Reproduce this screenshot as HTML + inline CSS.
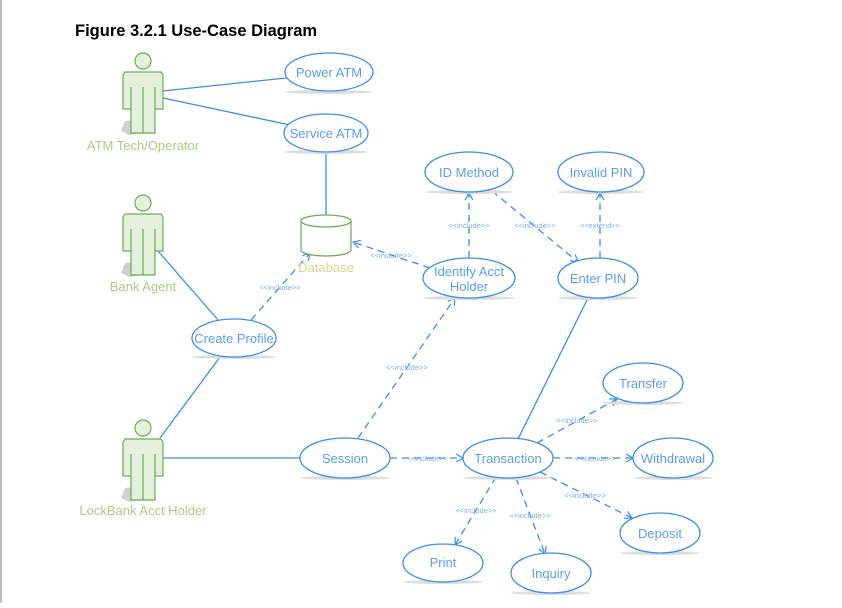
<!DOCTYPE html>
<html><head><meta charset="utf-8"><style>
body{margin:0;background:#fff;width:842px;height:603px;overflow:hidden;font-family:"Liberation Sans",sans-serif}
</style></head><body>
<svg width="842" height="603" viewBox="0 0 842 603" xmlns="http://www.w3.org/2000/svg">
<defs>
<marker id="a" markerWidth="10" markerHeight="10" refX="8" refY="5" orient="auto" markerUnits="userSpaceOnUse"><path d="M1,1 L8,5 L1,9" fill="none" stroke="#3b8ee6" stroke-width="1.2"/></marker>
<g id="actor">
<path d="M-18,60 L-2,58 L-2,72 L-14,74 L-22,70Z" fill="#d0d0d0"/>
<circle cx="0" cy="0" r="8" fill="#e4f0dc" stroke="#6aaa55" stroke-width="1.2"/>
<path d="M-18,11 L18,11 L20,14 L20,48 L12,48 L12,72 L-12,72 L-12,48 L-20,48 L-20,14Z" fill="#e4f0dc" stroke="#6aaa55" stroke-width="1.2"/>
<path d="M0,26 V72 M-12,26 V48 M12,26 V48" stroke="#6aaa55" stroke-width="1.2" fill="none"/>
</g>
</defs>
<line x1="1" y1="0" x2="1" y2="603" stroke="#bbb" stroke-width="2"/>
<text x="75" y="36" font-size="16.5" font-weight="bold" fill="#000">Figure 3.2.1 Use-Case Diagram</text>

<g fill="none" stroke="#3b8ee6" stroke-width="1.3">
<line x1="163" y1="91" x2="286" y2="78"/>
<line x1="163" y1="98" x2="290" y2="125"/>
<line x1="326" y1="152" x2="326" y2="215"/>
<line x1="158" y1="251" x2="218" y2="320"/>
<line x1="220" y1="357" x2="160" y2="438"/>
<line x1="163" y1="458" x2="300" y2="458"/>
<line x1="588" y1="298" x2="518" y2="439"/>
</g>
<g fill="none" stroke="#3b8ee6" stroke-width="1.3" stroke-dasharray="7,5">
<line x1="358" y1="438" x2="455" y2="298" marker-end="url(#a)"/>
<line x1="251" y1="320" x2="310" y2="253" marker-end="url(#a)"/>
<line x1="430" y1="268" x2="353" y2="242" marker-end="url(#a)"/>
<line x1="469" y1="258" x2="469" y2="193" marker-end="url(#a)"/>
<line x1="492" y1="191" x2="578" y2="262" marker-end="url(#a)"/>
<line x1="600" y1="258" x2="600" y2="193" marker-end="url(#a)"/>
<line x1="390" y1="458" x2="463" y2="458" marker-end="url(#a)"/>
<line x1="537" y1="443" x2="617" y2="399" marker-end="url(#a)"/>
<line x1="553" y1="458" x2="633" y2="458" marker-end="url(#a)"/>
<line x1="540" y1="472" x2="632" y2="518" marker-end="url(#a)"/>
<line x1="496" y1="477" x2="455" y2="545" marker-end="url(#a)"/>
<line x1="516" y1="478" x2="545" y2="554" marker-end="url(#a)"/>
</g>

<use href="#actor" x="143" y="61"/>
<use href="#actor" x="143" y="203"/>
<use href="#actor" x="143" y="428"/>
<g font-size="13" fill="#a9cc80" text-anchor="middle">
<text x="143" y="150">ATM Tech/Operator</text>
<text x="143" y="291">Bank Agent</text>
<text x="143" y="515">LockBank Acct Holder</text>
<text x="326" y="272" fill="#d4d88a">Database</text>
</g>

<g fill="#fff" stroke="#6aaa55" stroke-width="1.2">
<path d="M301,221 V250 A25,6 0 0 0 351,250 V221"/>
<ellipse cx="326" cy="221" rx="25" ry="6"/>
</g>

<g fill="#ddd">
<ellipse cx="329" cy="92" rx="44" ry="2"/><ellipse cx="326" cy="152" rx="42" ry="2"/>
<ellipse cx="469" cy="192" rx="44" ry="2"/><ellipse cx="601" cy="192" rx="43" ry="2"/>
<ellipse cx="469" cy="298" rx="46" ry="2"/><ellipse cx="598" cy="298" rx="40" ry="2"/>
<ellipse cx="234" cy="357" rx="42" ry="2"/><ellipse cx="345" cy="478" rx="45" ry="2"/>
<ellipse cx="508" cy="478" rx="45" ry="2"/><ellipse cx="643" cy="403" rx="40" ry="2"/>
<ellipse cx="673" cy="478" rx="40" ry="2"/><ellipse cx="660" cy="553" rx="40" ry="2"/>
<ellipse cx="443" cy="582" rx="40" ry="2"/><ellipse cx="551" cy="593" rx="40" ry="2"/>
</g>
<g fill="#fff" stroke="#3b8ee6" stroke-width="1.3">
<ellipse cx="329" cy="72" rx="44" ry="19"/>
<ellipse cx="326" cy="133" rx="42" ry="19"/>
<ellipse cx="469" cy="172" rx="44" ry="20"/>
<ellipse cx="601" cy="172" rx="43" ry="20"/>
<ellipse cx="469" cy="278" rx="46" ry="20"/>
<ellipse cx="598" cy="278" rx="40" ry="20"/>
<ellipse cx="234" cy="338" rx="42" ry="19"/>
<ellipse cx="345" cy="458" rx="45" ry="20"/>
<ellipse cx="508" cy="458" rx="45" ry="20"/>
<ellipse cx="643" cy="383" rx="40" ry="20"/>
<ellipse cx="673" cy="458" rx="40" ry="20"/>
<ellipse cx="660" cy="533" rx="40" ry="20"/>
<ellipse cx="443" cy="563" rx="40" ry="19"/>
<ellipse cx="551" cy="573" rx="40" ry="20"/>
</g>
<g font-size="13" fill="#5b9de8" text-anchor="middle">
<text x="329" y="77">Power ATM</text>
<text x="326" y="138">Service ATM</text>
<text x="469" y="177">ID Method</text>
<text x="601" y="177">Invalid PIN</text>
<text x="469" y="276">Identify Acct</text>
<text x="469" y="291">Holder</text>
<text x="598" y="283">Enter PIN</text>
<text x="234" y="343">Create Profile</text>
<text x="345" y="463">Session</text>
<text x="508" y="463">Transaction</text>
<text x="643" y="388">Transfer</text>
<text x="673" y="463">Withdrawal</text>
<text x="660" y="538">Deposit</text>
<text x="443" y="567">Print</text>
<text x="551" y="578">Inquiry</text>
</g>
<g font-size="7.5" fill="#7aaee8" text-anchor="middle">
<text x="391" y="258">&lt;&lt;include&gt;&gt;</text>
<text x="280" y="290">&lt;&lt;include&gt;&gt;</text>
<text x="407" y="370">&lt;&lt;include&gt;&gt;</text>
<text x="469" y="228">&lt;&lt;include&gt;&gt;</text>
<text x="535" y="228">&lt;&lt;include&gt;&gt;</text>
<text x="600" y="228">&lt;&lt;extend&gt;&gt;</text>
<text x="427" y="461">&lt;&lt;include&gt;&gt;</text>
<text x="577" y="423">&lt;&lt;include&gt;&gt;</text>
<text x="595" y="461">&lt;&lt;include&gt;&gt;</text>
<text x="585" y="498">&lt;&lt;include&gt;&gt;</text>
<text x="476" y="513">&lt;&lt;include&gt;&gt;</text>
<text x="530" y="518">&lt;&lt;include&gt;&gt;</text>
</g>
</svg>
</body></html>
